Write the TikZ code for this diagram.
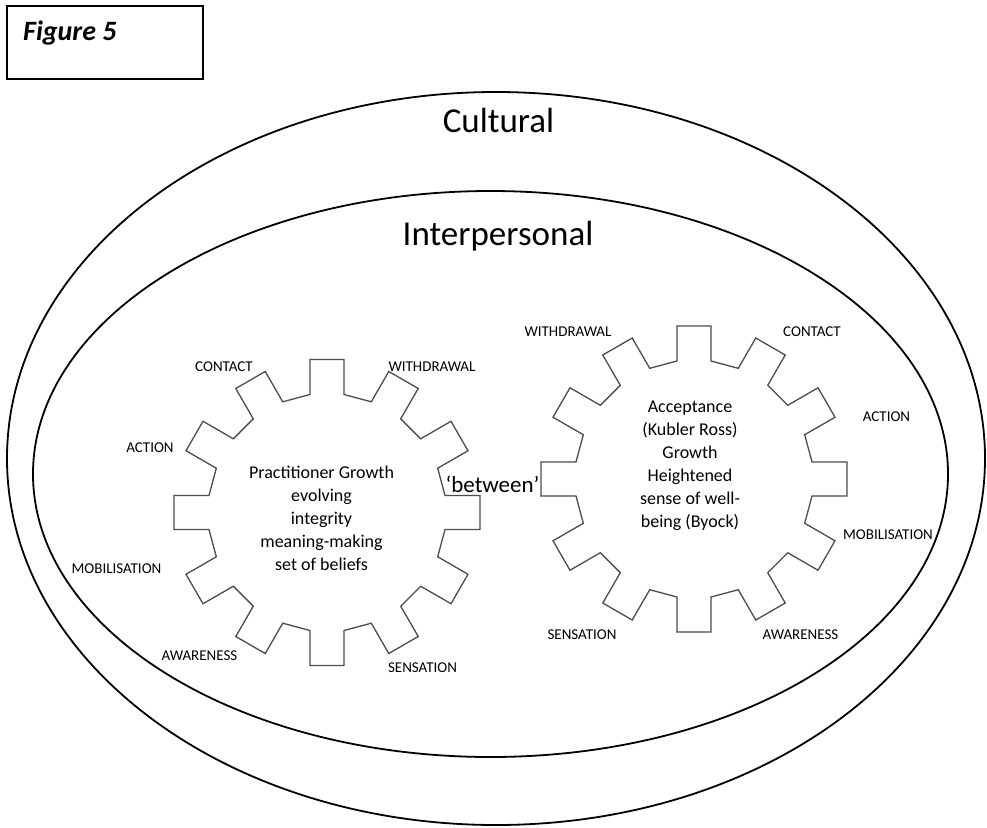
\documentclass[tikz,border=0pt]{standalone}
\usepackage{fontspec}
\setmainfont{Carlito}
\usetikzlibrary{calc,shapes.geometric}
\begin{document}
\begin{tikzpicture}[x=1pt,y=-1pt,
  ring/.style={draw=black, line width=1.8pt, ellipse, inner sep=0pt, outer sep=0pt},
  gearline/.style={draw=black!70, line width=1.3pt, line join=miter},
  lbl/.style={font=\fontsize{15}{15}\selectfont, inner sep=0pt},
  big/.style={font=\fontsize{35}{35}\selectfont, inner sep=0pt, anchor=base},
  gtext/.style={font=\fontsize{18}{23}\selectfont, inner sep=0pt, align=center},
  figbox/.style={draw=black, line width=1.8pt}]
\useasboundingbox (0,0) rectangle (987,827);
% title box
\draw[figbox] (7,6) rectangle (203,79);
\node[inner sep=0pt, anchor=base west, font=\fontsize{28}{28}\selectfont\bfseries\itshape] (fig) at (23,40) {Figure 5};
% ellipses
\node[ring, minimum width=978pt, minimum height=733pt] (outer) at (496,458.5) {};
\node[ring, minimum width=915pt, minimum height=566pt] (inner) at (490.5,474) {};
\node[big] (cult) at (498.5,132) {Cultural};
\node[big] (inter) at (498,245) {Interpersonal};
% gears
\def\rr{118}\def\RR{153}\def\hh{17}
\coordinate (g1) at (327,512.5);
\coordinate (g2) at (694,479);
\foreach \g in {g1,g2}{
  \draw[gearline] ($(\g)+(0:\rr)+(-90:\hh)$)
    \foreach \a in {0,30,...,330}{
      -- ($(\g)+(\a:\rr)+(\a-90:\hh)$)
      -- ($(\g)+(\a:\RR)+(\a-90:\hh)$)
      -- ($(\g)+(\a:\RR)+(\a+90:\hh)$)
      -- ($(\g)+(\a:\rr)+(\a+90:\hh)$)
    } -- cycle;
}
\node[gtext] (t1) at (321.5,518.5) {Practitioner Growth\\evolving\\integrity\\meaning-making\\set of beliefs};
\node[gtext] (t2) at (690,466) {Acceptance\\(Kubler Ross)\\Growth\\Heightened\\sense of well-\\being (Byock)};
\node[inner sep=0pt, anchor=base, font=\fontsize{23}{23}\selectfont] (betw) at (492.5,492) {‘between’};
% left gear labels
\node[lbl] (l1) at (224,367) {CONTACT};
\node[lbl] (l2) at (432,367) {WITHDRAWAL};
\node[lbl] (l3) at (150,448) {ACTION};
\node[lbl] (l4) at (116.5,569) {MOBILISATION};
\node[lbl] (l5) at (199.5,656) {AWARENESS};
\node[lbl] (l6) at (422.5,668) {SENSATION};
% right gear labels
\node[lbl] (r1) at (568,332) {WITHDRAWAL};
\node[lbl] (r2) at (812,332) {CONTACT};
\node[lbl] (r3) at (886.5,417) {ACTION};
\node[lbl] (r4) at (888,535) {MOBILISATION};
\node[lbl] (r5) at (800.5,635) {AWARENESS};
\node[lbl] (r6) at (582,635) {SENSATION};
\end{tikzpicture}
\end{document}
